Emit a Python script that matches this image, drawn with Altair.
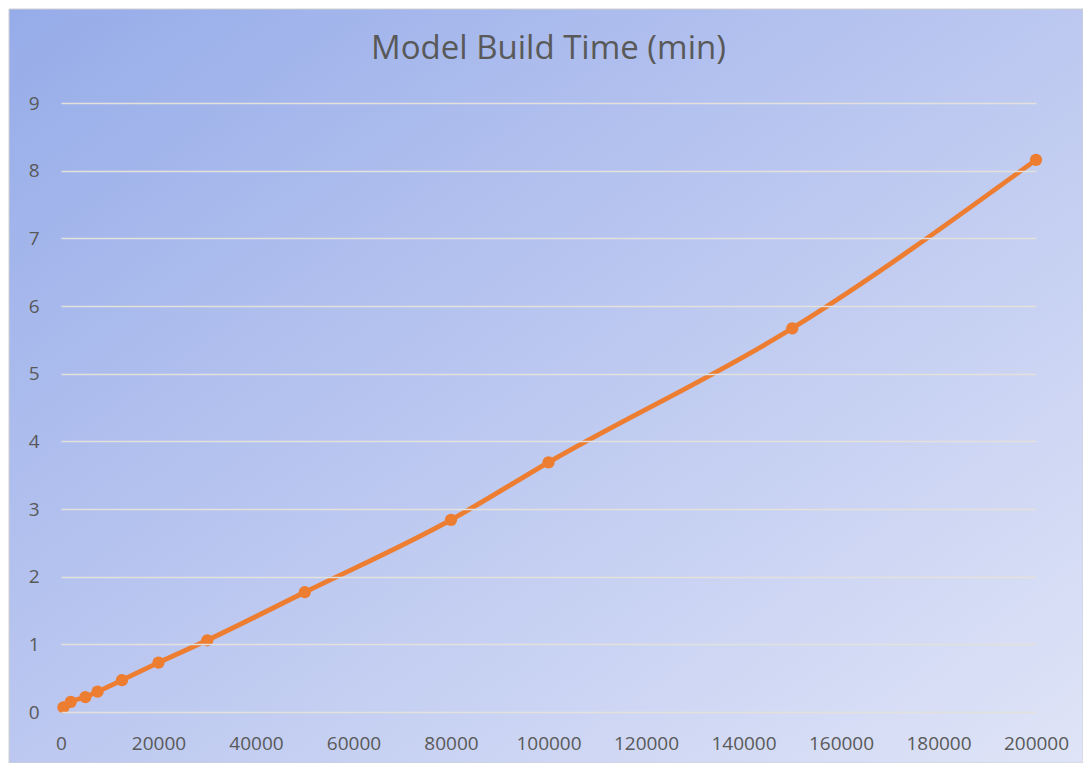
import altair as alt
import pandas as pd

records = [500, 2000, 5000, 7500, 12500, 20000, 30000, 50000, 80000, 100000, 150000, 200000]
minutes = [0.07, 0.15, 0.22, 0.30, 0.47, 0.73, 1.06, 1.77, 2.84, 3.69, 5.67, 8.16]

df = pd.DataFrame({"records": records, "minutes": minutes})

W, H = 975, 609
PL, PT, PR, PB = 53, 95, 47, 51

bg = alt.Chart(pd.DataFrame({"a": [0]})).mark_rect(
    fill=alt.Gradient(
        gradient="linear",
        stops=[alt.GradientStop(color="#96ace9", offset=0),
               alt.GradientStop(color="#bcc8f0", offset=0.5),
               alt.GradientStop(color="#dfe4f7", offset=1)],
        x1=0, y1=0, x2=1, y2=1),
    stroke="#d0d0d0", strokeWidth=1
).encode(
    x=alt.value(-PL + 1), x2=alt.value(W + PR),
    y=alt.value(-PT + 1), y2=alt.value(H + PB)
)

xenc = alt.X("records:Q",
             scale=alt.Scale(domain=[0, 200000], nice=False),
             axis=alt.Axis(title=None, values=list(range(0, 200001, 20000)), format="d",
                           grid=False, domain=False, ticks=False, labelPadding=22,
                           labelFlush=False, labelOverlap=False,
                           labelColor="#595959", labelFontSize=19, labelFont="Open Sans",
                           zindex=1))
yenc = alt.Y("minutes:Q",
             scale=alt.Scale(domain=[0, 9], nice=False),
             axis=alt.Axis(title=None, values=list(range(0, 10)), format="d", grid=True,
                           gridColor="#e4e1dc", gridWidth=1.5, labelFlush=False,
                           domain=False, ticks=False, labelPadding=22,
                           labelColor="#595959", labelFontSize=19, labelFont="Open Sans",
                           zindex=1))

line = alt.Chart(df).mark_line(color="#ed7d31", strokeWidth=4.8, interpolate="monotone").encode(
    x=xenc, y=yenc)
pts = alt.Chart(df).mark_point(color="#ed7d31", filled=True, size=150, opacity=1).encode(
    x="records:Q", y="minutes:Q")

chart = alt.layer(bg, line, pts).properties(
    width=W, height=H,
    autosize=alt.AutoSizeParams(type="none"),
    padding={"left": PL, "top": PT, "right": PR, "bottom": PB},
    title=alt.TitleParams("Model Build Time (min)", fontSize=33, font="Open Sans",
                          fontWeight="normal", color="#595959", anchor="middle", offset=-57,
                          frame="group", zindex=1),
).configure_view(stroke=None)

chart.save("out.html", embed_options={"renderer": "svg", "actions": False})
